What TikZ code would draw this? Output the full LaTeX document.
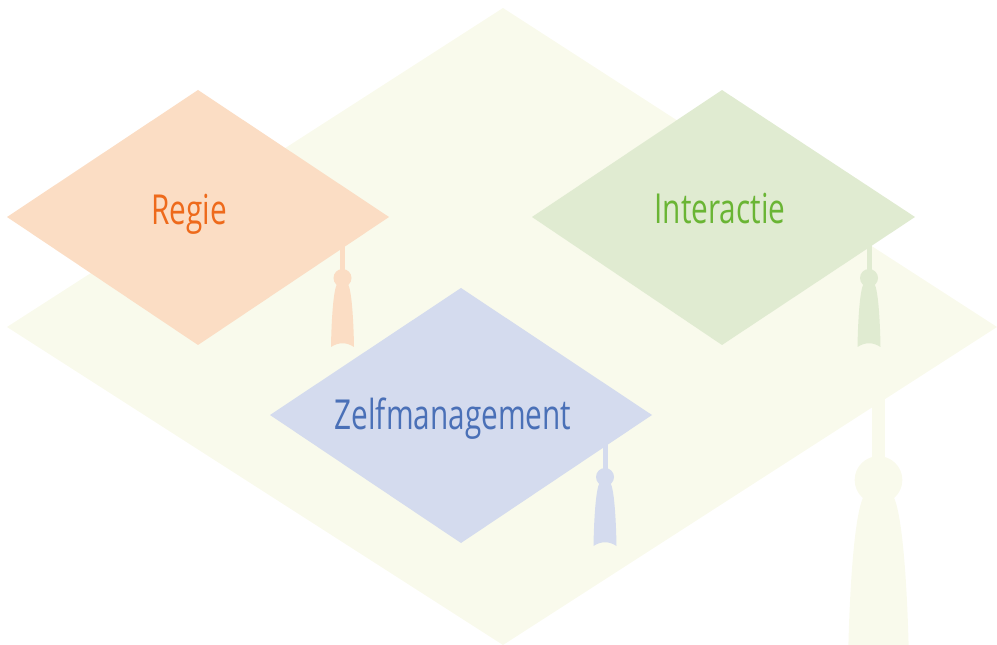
\documentclass[tikz,border=0pt]{standalone}
\usepackage{fontspec}
\setmainfont{Open Sans}[FakeStretch=0.72]
\definecolor{hatback}{HTML}{F9FAEC}
\definecolor{regiefill}{HTML}{FBDDC4}
\definecolor{regietext}{HTML}{EE6A1B}
\definecolor{interfill}{HTML}{E0EBD1}
\definecolor{intertext}{HTML}{6AB534}
\definecolor{zelffill}{HTML}{D4DBEE}
\definecolor{zelftext}{HTML}{4A70B7}
\tikzset{
  label text/.style={anchor=base, font=\fontsize{31}{36}\selectfont},
}
% tassel: #1 = knob centre, #2 = scale, #3 = colour
\newcommand{\captassel}[3]{%
  \begin{scope}[shift={#1}, scale=#2]
    \fill[#3] (-2.5,-60) rectangle (2.5,0);
    \fill[#3] (0,0) circle (9);
    \fill[#3] (-5.5,6) .. controls (-9,12) and (-11,40) .. (-11.5,69)
      .. controls (-4,64) and (4,64) .. (11.5,69)
      .. controls (11,40) and (9,12) .. (5.5,6) -- cycle;
  \end{scope}}
\begin{document}
\begin{tikzpicture}[x=0.75pt, y=-0.75pt]
  \useasboundingbox (0,0) rectangle (997,645);
  % big cap
  \fill[hatback] (503,8) -- (997,327) -- (503,645) -- (7,327) -- cycle;
  \begin{scope}
    \clip (0,0) rectangle (997,645);
    \captassel{(878.5,480)}{2.65}{hatback}
  \end{scope}
  % Regie
  \captassel{(342.5,278)}{1}{regiefill}
  \fill[regiefill] (198,90) -- (389,217) -- (198,345) -- (7,217) -- cycle;
  \node[label text, text=regietext] (regie) at (189,225) {Regie};
  % Interactie
  \captassel{(869,278)}{1}{interfill}
  \fill[interfill] (722,90) -- (915,217) -- (722,345) -- (532,217) -- cycle;
  \node[label text, text=intertext] (interactie) at (720,224) {Interactie};
  % Zelfmanagement
  \captassel{(605,477)}{1}{zelffill}
  \fill[zelffill] (461,288) -- (652,415) -- (461,543) -- (270,415) -- cycle;
  \node[label text, text=zelftext] (zelf) at (453,430) {Zelfmanagement};
\end{tikzpicture}
\end{document}
